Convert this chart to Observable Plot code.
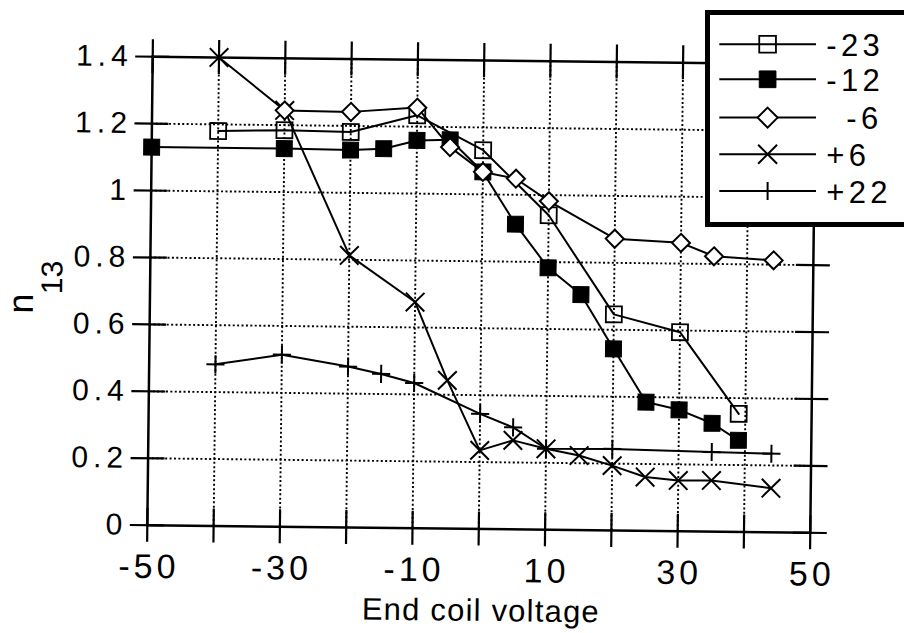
<!DOCTYPE html>
<html>
<head>
<meta charset="utf-8">
<script src="https://cdn.jsdelivr.net/npm/d3@7"></script>
<script src="https://cdn.jsdelivr.net/npm/@observablehq/plot@0.6"></script>
<style>
  html, body { margin: 0; padding: 0; background: #fff; overflow: hidden; }
  #wrap { position: relative; width: 904px; height: 633px; overflow: hidden;
          font-family: "Liberation Sans", Arial, Helvetica, sans-serif; }
  #tilt { position: absolute; left: 0; top: 0; width: 904px; height: 633px;
          transform-origin: 480px 294px; transform: rotate(0.66deg); }
  #legend { position: absolute; left: 705px; top: 10px; width: 240px; height: 207px;
            border: 5.7px solid #000; background: #fff; }
  #legend svg { display: block; }
</style>
</head>
<body>
<div id="wrap"><div id="tilt"></div></div>
<script>
// ---------------- data ----------------
const seriesNames = ["-23", "-12", "-6", "+6", "+22"];

const xs23 = [-40, -30, -20, -10, 0, 10, 20, 30, 39];
const ys23 = [1.18, 1.185, 1.182, 1.234, 1.132, 0.94, 0.646, 0.595, 0.353];

const xs12 = [-50, -30, -20, -15, -10, -5, 0, 5, 10, 15, 20, 25, 30, 35, 39];
const ys12 = [1.13, 1.13, 1.128, 1.133, 1.159, 1.162, 1.067, 0.912, 0.783, 0.704, 0.543, 0.385, 0.363, 0.324, 0.274];

const xs6 = [-30, -20, -10, -5, 0, 5, 10, 20, 30, 35, 44];
const ys6 = [1.244, 1.242, 1.257, 1.14, 1.067, 1.048, 0.982, 0.872, 0.862, 0.823, 0.813];

const xp6 = [-40, -30, -20, -10, -5, 0, 5, 10, 15, 20, 25, 30, 35, 44];
const yp6 = [1.40, 1.244, 0.813, 0.676, 0.443, 0.235, 0.266, 0.242, 0.223, 0.194, 0.161, 0.152, 0.153, 0.132];

const xp22 = [-40, -30, -20, -15, -10, 0, 5, 10, 20, 35, 44];
const yp22 = [0.483, 0.514, 0.481, 0.46, 0.434, 0.344, 0.305, 0.242, 0.244, 0.238, 0.235];

const xTicks = [-50, -40, -30, -20, -10, 0, 10, 20, 30, 40, 50];
const xGrid = [-40, -30, -20, -10, 0, 10, 20, 30, 40];
const xLabelValues = [-50, -30, -10, 10, 30, 50];
const xLabels = ["-50", "-30", "-10", "10", "30", "50"];

const yTicks = [0, 0.2, 0.4, 0.6, 0.8, 1.0, 1.2, 1.4];
const yGrid = [0.2, 0.4, 0.6, 0.8, 1.0, 1.2];
const yLabels = ["0", "0.2", "0.4", "0.6", "0.8", "1", "1.2", "1.4"];

const xTitle = "End coil voltage";

// ---------------- build tables ----------------
const toRows = (xs, ys) => xs.map((x, i) => ({x, y: ys[i]}));
const d23 = toRows(xs23, ys23);
const d12 = toRows(xs12, ys12);
const d6 = toRows(xs6, ys6);
const dp6 = toRows(xp6, yp6);
const dp22 = toRows(xp22, yp22);

// ---------------- layout ----------------
const W = 904, H = 633;
const ML = 149.5, MR = 91.5, MT = 60, MB = 104.5;
const plotW = W - ML - MR;
const plotH = H - MT - MB;
const T = 17; // tick half-length
const ink = "#000";
const lineW = 2;
const font = '"Liberation Sans", Arial, Helvetica, sans-serif';
const dotted = {stroke: ink, strokeWidth: 1.9, strokeDasharray: "2,2.4"};

const chart = Plot.plot({
  width: W,
  height: H,
  marginLeft: ML,
  marginRight: MR,
  marginTop: MT,
  marginBottom: MB,
  x: {domain: [-50, 50], axis: null},
  y: {domain: [0, 1.4], axis: null},
  style: {fontFamily: font, color: ink, background: "transparent", overflow: "visible"},
  marks: [
    // dotted grid
    Plot.ruleX(xGrid, {x: d => d, ...dotted}),
    Plot.ruleY(yGrid, {y: d => d, ...dotted}),
    // frame
    Plot.frame({stroke: ink, strokeWidth: 2.5}),
    // ticks crossing all four sides
    Plot.tickX(xTicks, {x: d => d, insetTop: plotH - T, insetBottom: -T, stroke: ink, strokeWidth: 2.2}),
    Plot.tickX(xTicks, {x: d => d, insetTop: -T, insetBottom: plotH - T, stroke: ink, strokeWidth: 2.2}),
    Plot.tickY(yTicks, {y: d => d, insetLeft: -T, insetRight: plotW - T, stroke: ink, strokeWidth: 2.2}),
    Plot.tickY(yTicks, {y: d => d, insetLeft: plotW - T, insetRight: -T, stroke: ink, strokeWidth: 2.2}),
    // series lines
    Plot.line(dp22, {x: "x", y: "y", stroke: ink, strokeWidth: lineW}),
    Plot.line(dp6, {x: "x", y: "y", stroke: ink, strokeWidth: lineW}),
    Plot.line(d12, {x: "x", y: "y", stroke: ink, strokeWidth: lineW}),
    Plot.line(d23, {x: "x", y: "y", stroke: ink, strokeWidth: lineW}),
    Plot.line(d6, {x: "x", y: "y", stroke: ink, strokeWidth: lineW}),
    // markers
    Plot.dot(dp22, {x: "x", y: "y", symbol: "plus", r: 5.9, stroke: ink, strokeWidth: 2}),
    Plot.dot(dp6, {x: "x", y: "y", symbol: "times", r: 8.5, stroke: ink, strokeWidth: 2}),
    Plot.dot(d12, {x: "x", y: "y", symbol: "square", r: 9, fill: ink, stroke: ink, strokeWidth: 1}),
    Plot.dot(d23, {x: "x", y: "y", symbol: "square", r: 9, fill: "none", stroke: ink, strokeWidth: 1.8}),
    Plot.dot(d6, {x: "x", y: "y", symbol: "diamond2", r: 8.1, fill: "#fff", stroke: ink, strokeWidth: 2}),
    // tick labels
    Plot.text(xLabelValues, {x: d => d, text: (d, i) => xLabels[i], frameAnchor: "bottom", lineAnchor: "top", dy: 28.5, dx: 2, fontSize: 34, fill: ink}),
    Plot.text(yTicks, {y: d => d, text: (d, i) => yLabels[i], frameAnchor: "left", textAnchor: "end", dx: -20, fontSize: 30, fill: ink}),
    // x title
    Plot.text([xTitle], {text: d => d, frameAnchor: "bottom", lineAnchor: "middle", dy: 82, dx: 3, fontSize: 31, fill: ink})
  ]
});

const wrap = document.getElementById("wrap");
document.getElementById("tilt").appendChild(chart);

// letter spacing on the text marks (x labels, y labels, title)
const textGroups = chart.querySelectorAll('g[aria-label="text"]');
if (textGroups[0]) textGroups[0].setAttribute("letter-spacing", "4");
if (textGroups[1]) textGroups[1].setAttribute("letter-spacing", "5");
if (textGroups[2]) textGroups[2].setAttribute("letter-spacing", "1.2");

// y-axis title: n with subscript 13, rotated
const ytitle = d3.select(chart).append("text")
  .attr("transform", "translate(33,319) rotate(-90)")
  .attr("text-anchor", "start")
  .attr("fill", ink)
  .attr("font-size", 36);
ytitle.append("tspan").text("n");
ytitle.append("tspan").attr("dy", 29).attr("font-size", 30).text("13");

// ---------------- legend ----------------
const legendSymbols = [
  {type: d3.symbolSquare, size: 279, fill: "none", sw: 1.8},
  {type: d3.symbolSquare, size: 279, fill: ink, sw: 1},
  {type: d3.symbolDiamond2, size: 255, fill: "#fff", sw: 2},
  {type: d3.symbolTimes, size: 237, fill: "none", sw: 2},
  {type: d3.symbolPlus, size: 108, fill: "none", sw: 2}
];
const rowY = [29.3, 64.3, 102.6, 139.3, 176];
const labelDx = [0, 0, 20, 0, 0];

const legend = d3.select(wrap).append("div").attr("id", "legend");
const lsvg = legend.append("svg").attr("width", 240).attr("height", 207)
  .style("font-family", font);
seriesNames.forEach((name, i) => {
  const g = lsvg.append("g").attr("transform", `translate(0,${rowY[i]})`);
  g.append("line").attr("x1", 9.3).attr("x2", 106).attr("y1", 0).attr("y2", 0)
    .attr("stroke", ink).attr("stroke-width", 2);
  const s = legendSymbols[i];
  g.append("path").attr("transform", "translate(57.6,0)")
    .attr("d", d3.symbol().type(s.type).size(s.size)())
    .attr("fill", s.fill).attr("stroke", ink).attr("stroke-width", s.sw);
  g.append("text").attr("x", 116.3 + labelDx[i]).attr("y", 11.5)
    .attr("font-size", 31).attr("letter-spacing", 4.3).attr("fill", ink)
    .text(name);
});
</script>
</body>
</html>
